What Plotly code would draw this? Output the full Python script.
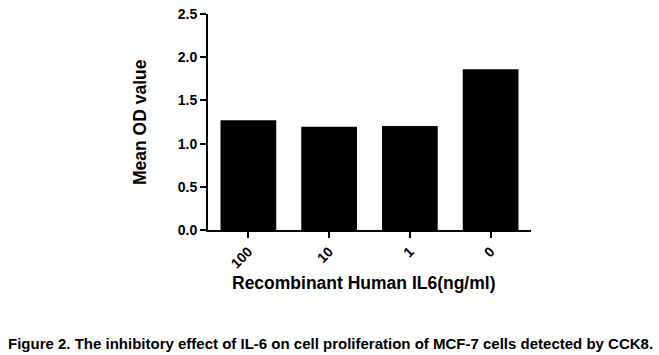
import plotly.graph_objects as go

categories = ["100", "10", "1", "0"]
values = [1.27, 1.195, 1.203, 1.86]
y_ticks = [0.0, 0.5, 1.0, 1.5, 2.0, 2.5]
y_tick_labels = ["0.0", "0.5", "1.0", "1.5", "2.0", "2.5"]

FONT = "Liberation Sans, Arial, sans-serif"
L, T, W, H = 208, 14, 323, 216  # plot area in page pixels

fig = go.Figure(go.Bar(x=categories, y=values, marker=dict(color="black", line=dict(width=0)), width=0.69))

fig.update_layout(
    width=659, height=355,
    margin=dict(l=L, r=659 - L - W, t=T, b=355 - T - H),
    paper_bgcolor="white", plot_bgcolor="white",
    showlegend=False,
    font=dict(family=FONT, color="black"),
)
fig.update_xaxes(
    type="category", range=[-0.5, 3.5], automargin=False,
    showline=True, linecolor="black", linewidth=2,
    ticks="outside", ticklen=6, tickwidth=2, tickcolor="black",
    tickangle=-45, tickfont=dict(size=14, family=FONT, weight="bold"),
    showgrid=False, zeroline=False,
)
fig.update_yaxes(
    range=[0, 2.5], tickvals=y_ticks, ticktext=y_tick_labels, automargin=False,
    showline=True, linecolor="black", linewidth=2,
    ticks="outside", ticklen=6, tickwidth=2, tickcolor="black",
    tickfont=dict(size=14, family=FONT, weight="bold"),
    showgrid=False, zeroline=False,
)


def px_x(p):
    return (p - L) / W


def px_y(p):
    return (T + H - p) / H


fig.add_annotation(
    text="<b>Mean OD value</b>", textangle=-90,
    xref="paper", yref="paper", x=px_x(140), y=px_y(122), xanchor="center", yanchor="middle",
    showarrow=False, font=dict(size=17.5, family=FONT, color="black"),
)
fig.add_annotation(
    text="<b>Recombinant Human IL6(ng/ml)</b>",
    xref="paper", yref="paper", x=px_x(363), y=px_y(283), xanchor="center", yanchor="middle",
    showarrow=False, font=dict(size=17.5, family=FONT, color="black"),
)
fig.add_annotation(
    text="<b>Figure 2. The inhibitory effect of IL-6 on cell proliferation of MCF-7 cells detected by CCK8.</b>",
    xref="paper", yref="paper", x=px_x(330), y=px_y(343), xanchor="center", yanchor="middle",
    showarrow=False, font=dict(size=15, family=FONT, color="black"),
)
fig.write_html(
    "out.html",
    config={"displayModeBar": False},
    post_script="document.body.style.margin='0';document.body.style.overflow='hidden';",
)
